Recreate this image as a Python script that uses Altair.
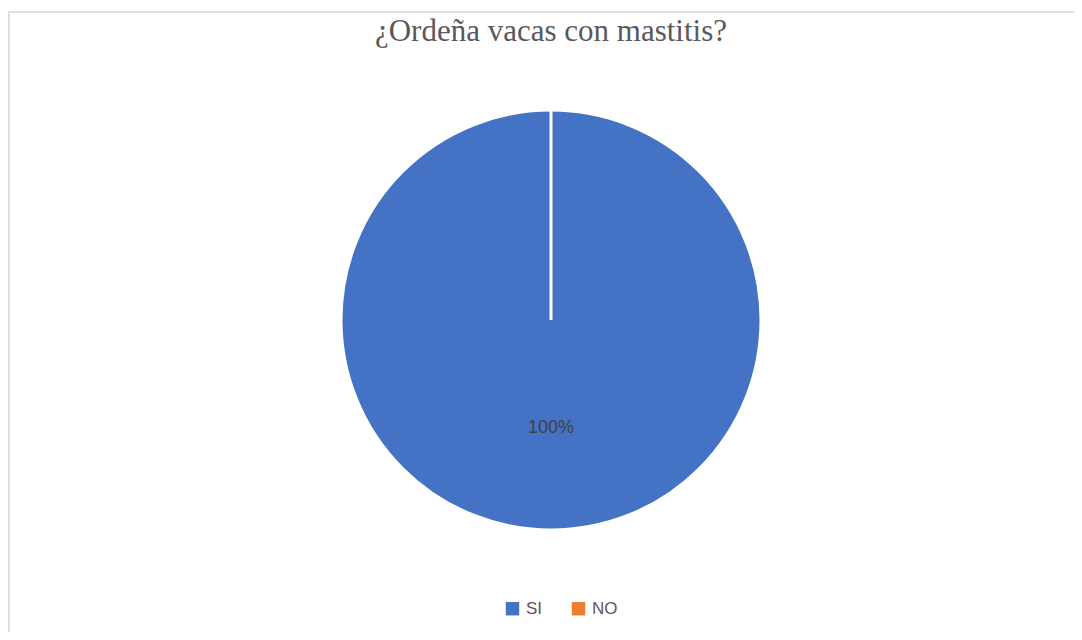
import altair as alt
import pandas as pd

categories = ["SI", "NO"]
values = [100, 0]
colors = ["#4472C4", "#ED7D31"]
title_text = "¿Ordeña vacas con mastitis?"

df = pd.DataFrame({"cat": categories, "value": values, "ord": [0, 1]})

base = alt.Chart(df)

pie = base.mark_arc(outerRadius=210, stroke="white", strokeWidth=3).encode(
    theta=alt.Theta("value:Q", stack=True),
    order=alt.Order("ord:Q"),
    color=alt.Color(
        "cat:N",
        scale=alt.Scale(domain=categories, range=colors),
        legend=alt.Legend(
            title=None,
            orient="none",
            direction="horizontal",
            legendX=476,
            legendY=547,
            symbolType="square",
            symbolSize=180,
            symbolStrokeWidth=0,
            labelFontSize=17,
            labelColor="#595959",
            labelFont="Liberation Sans",
            labelOffset=5,
            columnPadding=27,
        ),
    ),
)

labels = base.transform_joinaggregate(total="sum(value)").transform_calculate(
    pct="format(datum.value / datum.total, '.0%')"
).transform_filter("datum.value > 0").mark_text(
    radius=108, fontSize=18, font="Liberation Sans", color="#404040"
).encode(
    theta=alt.Theta("value:Q", stack=True),
    order=alt.Order("ord:Q"),
    text="pct:N",
)

border_top = base.mark_rule(color="#e0e0e0", strokeWidth=2).encode(
    x=alt.value(-20), x2=alt.value(1046), y=alt.value(-41)
)
border_left = base.mark_rule(color="#e0e0e0", strokeWidth=2).encode(
    x=alt.value(-19), y=alt.value(-41), y2=alt.value(580)
)

chart = alt.layer(border_top, border_left, pie, labels).properties(
    width=1046,
    height=534,
    autosize=alt.AutoSizeParams(type="none"),
    padding={"left": 20, "top": 45, "right": 0, "bottom": 45},
    title=alt.TitleParams(
        title_text,
        font="Liberation Serif",
        fontSize=31,
        fontWeight="normal",
        color="#595959",
        anchor="middle",
        offset=12,
        dy=49,
    ),
).configure_view(stroke=None)

chart.save("out.html", embed_options={"renderer": "svg", "actions": False})
